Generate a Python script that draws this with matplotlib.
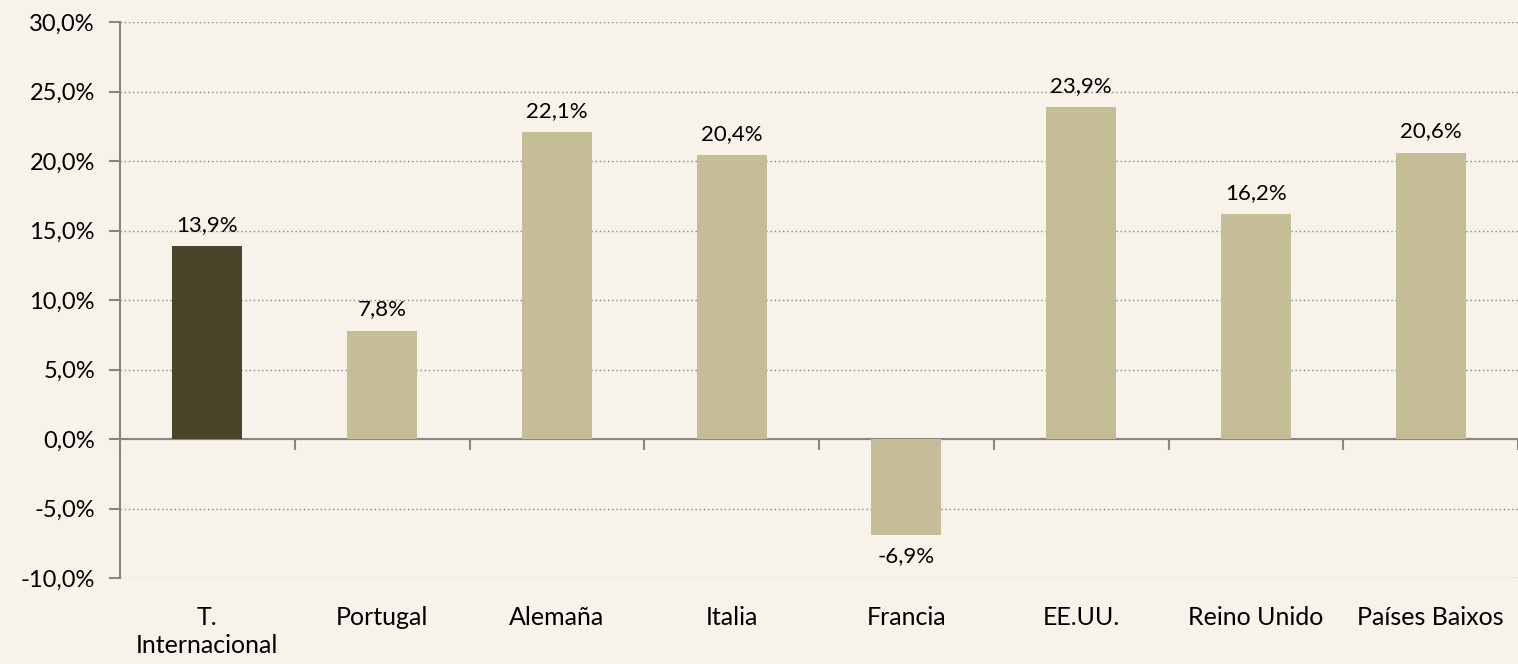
import numpy as np
import matplotlib.pyplot as plt

# Data
categories = ['T.\nInternacional', 'Portugal', 'Alemaña', 'Italia', 'Francia',
              'EE.UU.', 'Reino Unido', 'Países Baixos']
values = [13.9, 7.8, 22.1, 20.4, -6.9, 23.9, 16.2, 20.6]
bar_colors = ['#4a442a'] + ['#c4bd97'] * 7
yticks = [-10, -5, 0, 5, 10, 15, 20, 25, 30]

plt.rcParams['font.family'] = ['Lato', 'DejaVu Sans']

bg = '#f7f3ea'
grey = '#868686'

fig = plt.figure(figsize=(15.18, 6.64), dpi=100, facecolor=bg)
ax = fig.add_axes([120 / 1518, 1 - 578 / 664, 1 - 120 / 1518, (578 - 22) / 664])
ax.set_facecolor(bg)

x = np.arange(len(categories))
bars = ax.bar(x, values, width=0.4, color=bar_colors, zorder=3)

ax.set_xlim(-0.5, len(categories) - 0.5)
ax.set_ylim(-10, 30)

# y axis
ax.set_yticks(yticks)
ax.set_yticklabels([f'{v:.1f}%'.replace('.', ',') for v in yticks], fontsize=17)
ax.tick_params(axis='y', length=8, width=1.5, color=grey, pad=10)
ax.grid(axis='y', linestyle=(0, (1, 2)), color=grey, linewidth=1, zorder=0)

# x labels at the bottom
ax.set_xticks(x)
ax.set_xticklabels(categories, fontsize=18, linespacing=1.3, va='top')
ax.tick_params(axis='x', length=0, pad=20)

for s in ['top', 'right', 'bottom']:
    ax.spines[s].set_visible(False)
ax.spines['left'].set_color(grey)
ax.spines['left'].set_linewidth(1.5)

# zero axis with category boundary ticks
zero_loc = (0 - (-10)) / (30 - (-10))
sec = ax.secondary_xaxis(zero_loc)
sec.set_xticks(np.arange(len(categories) + 1) - 0.5)
sec.set_xticklabels([])
sec.tick_params(axis='x', direction='out', length=8, width=1.5, color=grey)
sec.spines['bottom'].set_color(grey)
sec.spines['bottom'].set_linewidth(1.5)

# value labels
ax.bar_label(bars, labels=[f'{v:.1f}%'.replace('.', ',') for v in values],
             padding=8, fontsize=16, zorder=4)

fig.savefig('out.png', dpi=100, facecolor=bg)
